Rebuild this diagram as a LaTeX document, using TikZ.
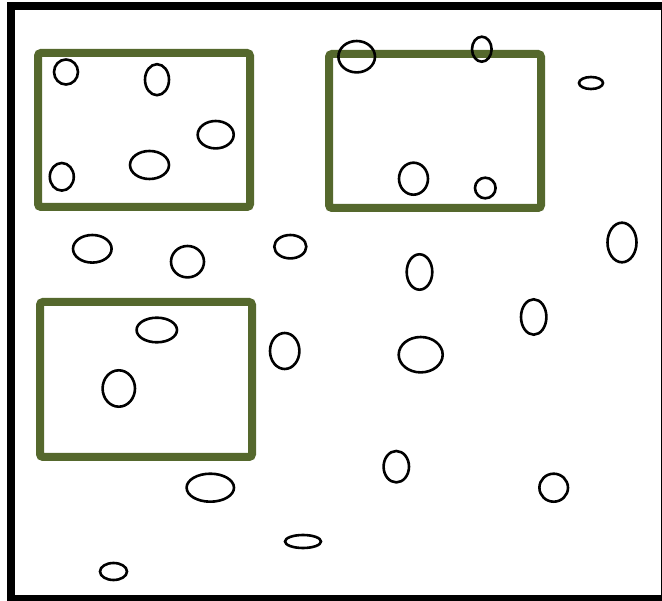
\documentclass[tikz,border=0pt]{standalone}
\usetikzlibrary{shadows}
\definecolor{boxgreen}{RGB}{85,104,45}
\begin{document}
\begin{tikzpicture}[x=1pt,y=-1pt,
  greenbox/.style={draw=boxgreen,line width=8pt,rounded corners=3pt,fill=white,
    drop shadow={shadow xshift=1pt,shadow yshift=-3pt,opacity=0.3,fill=gray}},
  blob/.style={draw=black,line width=2.6pt}]
\useasboundingbox (0,0) rectangle (662,601);
\fill[white] (0,0) rectangle (662,601);
% outer frame
\fill[black] (7,2) rectangle (15,601);
\fill[black] (7,2) rectangle (662,10);
\fill[black] (7,595) rectangle (662,601);
\fill[black] (660.5,2) rectangle (662,601);
% green boxes
\draw[greenbox] (38,53) rectangle (250,207);
\draw[greenbox] (329,54) rectangle (541,208);
\draw[greenbox] (40,302) rectangle (252,457);
% ellipses
\draw[blob] (66,72) ellipse (12 and 12.5);
\draw[blob] (157,79.7) ellipse (12 and 15.5);
\draw[blob] (215.7,134.7) ellipse (18 and 13.7);
\draw[blob] (61.8,176.8) ellipse (12 and 13.8);
\draw[blob] (149.5,165) ellipse (19.5 and 14);
\draw[blob] (356.7,56.7) ellipse (18.3 and 15.7);
\draw[blob] (481.8,49.2) ellipse (9.8 and 12.5);
\draw[blob] (413.5,178.7) ellipse (14.5 and 16);
\draw[blob] (485.3,188) ellipse (10.3 and 10.3);
\draw[blob] (591,83) ellipse (12 and 6);
\draw[blob] (622,242.5) ellipse (14.5 and 19.8);
\draw[blob] (92.3,248.8) ellipse (19.3 and 13.8);
\draw[blob] (187.5,261.7) ellipse (16.5 and 15.7);
\draw[blob] (290.3,246.7) ellipse (16 and 11.7);
\draw[blob] (419.5,272) ellipse (12.8 and 17.7);
\draw[blob] (533.7,317) ellipse (12.7 and 17.7);
\draw[blob] (284.7,351) ellipse (14.7 and 18);
\draw[blob] (420.7,354.7) ellipse (22 and 17.7);
\draw[blob] (156.8,330) ellipse (20.2 and 12.3);
\draw[blob] (118.8,388.5) ellipse (16.2 and 18.2);
\draw[blob] (210.3,487.7) ellipse (23.7 and 14);
\draw[blob] (396.3,466.7) ellipse (12.7 and 15.7);
\draw[blob] (553.7,487.7) ellipse (14.3 and 14);
\draw[blob] (303,541.5) ellipse (18 and 6.5);
\draw[blob] (113.5,571.5) ellipse (13.5 and 8.5);
\end{tikzpicture}
\end{document}
